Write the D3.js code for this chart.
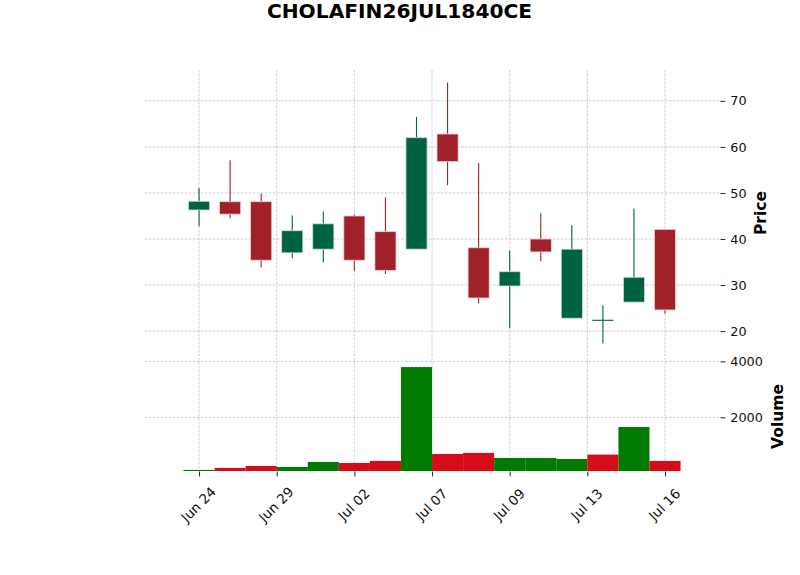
<!DOCTYPE html>
<html>
<head>
<meta charset="utf-8">
<script src="https://cdn.jsdelivr.net/npm/d3@7"></script>
<style>
  html, body { margin: 0; padding: 0; background: #fff; }
  svg { display: block; font-family: "DejaVu Sans", sans-serif; }
</style>
</head>
<body>
<svg id="chart" width="800" height="575"></svg>
<script>
// ---- Data ----
const title = "CHOLAFIN26JUL1840CE";
const opens  = [46.3, 48.1, 48.1, 37.0, 37.8, 45.0, 41.6, 37.8, 62.8, 38.1, 29.8, 40.0, 22.8, 22.3, 26.3, 42.1];
const highs  = [51.1, 57.1, 49.9, 45.1, 46.0, 45.3, 49.0, 66.5, 74.0, 56.5, 37.5, 45.6, 43.0, 25.6, 46.6, 42.1];
const lows   = [42.8, 44.5, 33.8, 35.8, 34.9, 33.1, 32.4, 37.8, 51.7, 26.0, 20.6, 35.2, 22.8, 17.3, 26.3, 23.8];
const closes = [48.2, 45.4, 35.4, 41.8, 43.3, 35.4, 33.2, 62.0, 56.8, 27.2, 32.9, 37.2, 37.8, 22.4, 31.7, 24.6];
const volumes = [120, 190, 260, 225, 404, 368, 440, 3796, 690, 726, 547, 547, 511, 666, 1654, 440];
const xTickPositions = [0, 2.5, 5, 7.5, 10, 12.5, 15];
const xTickLabels = ["Jun 24", "Jun 29", "Jul 02", "Jul 07", "Jul 09", "Jul 13", "Jul 16"];
const priceTicks = [20, 30, 40, 50, 60, 70];
const volumeTicks = [2000, 4000];

// ---- Style ----
const upColor = "#006340", downColor = "#a02128";
const volUp = "#007a00", volDown = "#d50d18";
const gridColor = "#c4c4c4";

const svg = d3.select("#chart");
const left = 145, right = 720;
const pTop = 70, pBot = 356, vTop = 358, vBot = 471;

const n = opens.length;
const x = d3.scaleLinear().domain([-1.74, 16.77]).range([left, right]);
const step = x(1) - x(0);
const yP = d3.scaleLinear().domain([14.6, 76.7]).range([pBot, pTop]);
const yV = d3.scaleLinear().domain([80, 4120]).range([vBot, vTop]);

// ---- Grids ----
const grid = svg.append("g").attr("fill", "none").attr("stroke", gridColor)
  .attr("stroke-width", 0.8).attr("stroke-dasharray", "2.6,1.4");
priceTicks.forEach(t => grid.append("line").attr("x1", left).attr("x2", right).attr("y1", yP(t)).attr("y2", yP(t)));
volumeTicks.forEach(t => grid.append("line").attr("x1", left).attr("x2", right).attr("y1", yV(t)).attr("y2", yV(t)));
xTickPositions.forEach(p => {
  grid.append("line").attr("x1", x(p)).attr("x2", x(p)).attr("y1", pTop).attr("y2", pBot);
  grid.append("line").attr("x1", x(p)).attr("x2", x(p)).attr("y1", vTop).attr("y2", vBot);
});

// ---- Candles ----
const bodyW = step * 0.68;
const candles = svg.append("g");
d3.range(n).forEach(i => {
  const up = closes[i] > opens[i];
  const c = up ? upColor : downColor;
  const cx = x(i);
  candles.append("line").attr("x1", cx).attr("x2", cx)
    .attr("y1", yP(highs[i])).attr("y2", yP(lows[i]))
    .attr("stroke", c).attr("stroke-width", 1.1);
  const yTop = yP(Math.max(opens[i], closes[i]));
  const yBottom = yP(Math.min(opens[i], closes[i]));
  const h = yBottom - yTop;
  if (h < 1.5) {
    candles.append("line").attr("x1", cx - bodyW / 2).attr("x2", cx + bodyW / 2)
      .attr("y1", (yTop + yBottom) / 2).attr("y2", (yTop + yBottom) / 2)
      .attr("stroke", c).attr("stroke-width", 1.1);
  } else {
    candles.append("rect").attr("x", cx - bodyW / 2).attr("y", yTop)
      .attr("width", bodyW).attr("height", h)
      .attr("fill", c)
      .attr("stroke", d3.interpolateRgb(c, "#ffffff")(0.8)).attr("stroke-width", 0.8);
  }
});

// ---- Volume ----
const vols = svg.append("g");
d3.range(n).forEach(i => {
  const up = i === 0 ? closes[i] >= opens[i] : closes[i] >= closes[i - 1];
  vols.append("rect")
    .attr("x", x(i) - step / 2).attr("width", step)
    .attr("y", yV(volumes[i])).attr("height", vBot - yV(volumes[i]))
    .attr("fill", up ? volUp : volDown);
});

// ---- Axes ----
function styleAxis(g) {
  g.select(".domain").remove();
  g.selectAll(".tick line").attr("stroke", "#222").attr("stroke-width", 1);
  g.selectAll(".tick text").attr("fill", "#111").style("font-size", "12.8px")
    .style("font-family", "'DejaVu Sans', sans-serif");
}
svg.append("g").attr("transform", `translate(${right + 0.5},0)`)
  .call(d3.axisRight(yP).tickValues(priceTicks).tickSize(4.9).tickPadding(4.9).tickFormat(d3.format("d")))
  .call(styleAxis);
svg.append("g").attr("transform", `translate(${right + 0.5},0)`)
  .call(d3.axisRight(yV).tickValues(volumeTicks).tickSize(4.9).tickPadding(4.9).tickFormat(d3.format("d")))
  .call(styleAxis);
const xa = svg.append("g").attr("transform", `translate(0,${vBot + 0.5})`)
  .call(d3.axisBottom(x).tickValues(xTickPositions).tickSize(4.9)
    .tickFormat((d, i) => xTickLabels[i]))
  .call(styleAxis);
xa.selectAll(".tick text").attr("y", 0).attr("dy", "0.35em").style("font-size", "13.5px")
  .attr("text-anchor", "middle").attr("transform", "translate(-1,33) rotate(-45)");

// ---- Labels ----
svg.append("text").attr("x", 399.5).attr("y", 17.5).attr("text-anchor", "middle")
  .style("font-size", "20.2px").style("font-weight", "bold").attr("fill", "#000").text(title);
svg.append("text").attr("transform", `translate(761,${(pTop + pBot) / 2}) rotate(-90)`)
  .attr("text-anchor", "middle").attr("dy", "0.35em")
  .style("font-size", "15.5px").style("font-weight", "bold").attr("fill", "#000").text("Price");
svg.append("text").attr("transform", `translate(778,${(vTop + vBot) / 2 + 2}) rotate(-90)`)
  .attr("text-anchor", "middle").attr("dy", "0.35em")
  .style("font-size", "15.5px").style("font-weight", "bold").attr("fill", "#000").text("Volume");
</script>
</body>
</html>
